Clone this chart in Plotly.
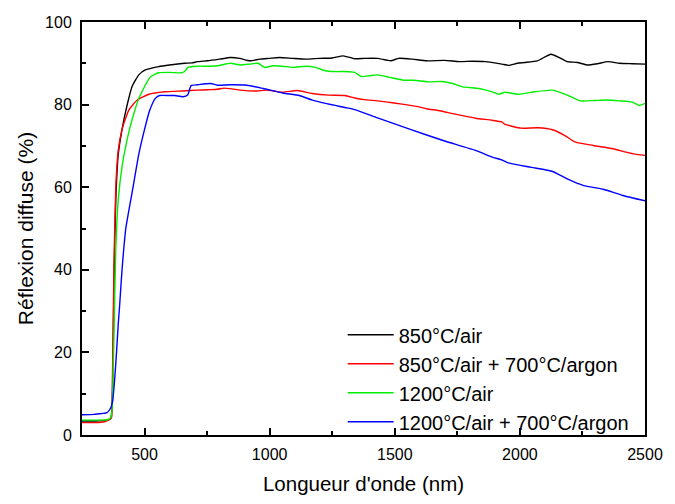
import plotly.graph_objects as go

# ---- data ----
wl_black = [250, 300, 350, 365, 372, 378, 385, 395, 410, 425, 451, 477, 503, 556, 600, 660, 690, 712, 752, 800, 843, 880, 921, 960, 1000, 1039, 1090, 1144, 1200, 1250, 1294, 1340, 1380, 1431, 1484, 1516, 1570, 1627, 1700, 1758, 1810, 1862, 1928, 1954, 1990, 2019, 2070, 2124, 2160, 2189, 2230, 2268, 2310, 2352, 2398, 2450, 2500]
val_black = [3.4, 3.4, 3.6, 4.0, 12, 38, 57, 68, 74, 78.5, 84.5, 87.2, 88.4, 89.2, 89.6, 90.0, 90.1, 90.4, 90.6, 91.0, 91.4, 91.2, 90.6, 91.0, 91.2, 91.4, 91.2, 91.0, 91.2, 91.3, 91.8, 91.1, 91.2, 91.2, 90.6, 91.2, 91.0, 90.6, 90.7, 90.4, 90.5, 90.4, 89.8, 89.5, 90.0, 90.2, 90.6, 92.2, 91.3, 90.4, 90.2, 89.6, 89.9, 90.4, 90.0, 89.9, 89.8]

wl_red = [250, 300, 340, 360, 368, 372, 378, 385, 395, 410, 425, 438, 471, 517, 582, 650, 712, 752, 791, 817, 850, 882, 948, 987, 1052, 1111, 1170, 1235, 1301, 1340, 1379, 1431, 1497, 1562, 1600, 1627, 1680, 1732, 1780, 1823, 1889, 1928, 1941, 2006, 2072, 2131, 2180, 2222, 2294, 2372, 2424, 2460, 2500]
val_red = [3.0, 3.0, 3.2, 3.8, 4.2, 15, 42, 60, 69, 74, 76.8, 78.8, 81.1, 82.5, 83.1, 83.3, 83.5, 83.6, 83.7, 84.0, 83.8, 83.5, 83.3, 83.5, 83.0, 83.4, 82.7, 82.3, 82.2, 81.6, 81.2, 80.9, 80.4, 79.8, 79.4, 79.0, 78.5, 77.8, 77.2, 76.7, 76.2, 75.8, 75.2, 74.3, 74.4, 73.9, 72.5, 70.9, 70.1, 69.3, 68.5, 68.0, 67.7]

wl_green = [250, 300, 350, 365, 370, 378, 385, 395, 410, 425, 445, 477, 523, 556, 600, 647, 660, 673, 712, 752, 791, 843, 882, 920, 954, 980, 1013, 1050, 1092, 1144, 1183, 1222, 1260, 1301, 1340, 1366, 1400, 1431, 1480, 1536, 1575, 1640, 1690, 1732, 1771, 1836, 1889, 1915, 1941, 1994, 2059, 2131, 2190, 2242, 2300, 2346, 2398, 2450, 2476, 2500]
val_green = [3.6, 3.6, 3.7, 4.2, 6, 25, 45, 57, 65, 70, 75.2, 81.5, 86.7, 87.7, 87.8, 87.7, 88.0, 89.0, 89.3, 89.3, 89.4, 90.0, 89.6, 89.8, 90.0, 89.0, 89.4, 89.3, 89.0, 89.3, 89.0, 88.2, 88.0, 88.0, 87.8, 86.8, 87.0, 87.2, 86.6, 85.9, 85.9, 85.5, 85.6, 85.1, 84.3, 83.9, 83.1, 82.5, 83.0, 82.5, 83.1, 83.5, 82.3, 80.9, 81.0, 81.1, 80.9, 80.6, 79.8, 80.3]

wl_blue = [250, 300, 350, 365, 372, 380, 388, 395, 400, 410, 425, 454, 477, 500, 520, 543, 560, 600, 621, 654, 672, 686, 712, 765, 791, 843, 909, 974, 1052, 1118, 1170, 1262, 1301, 1340, 1431, 1562, 1693, 1823, 1889, 1928, 1954, 2046, 2131, 2189, 2255, 2333, 2411, 2500]
val_blue = [4.9, 5.0, 5.4, 6.6, 8, 13, 20, 27, 31, 40, 50, 60, 68, 74, 78.5, 81.5, 82.2, 82.2, 82.2, 81.9, 82.3, 84.6, 84.8, 85.1, 84.7, 84.8, 84.7, 83.9, 82.8, 82.2, 81.1, 79.8, 79.3, 78.8, 76.8, 74.0, 71.3, 68.9, 67.3, 66.6, 65.9, 64.8, 63.8, 62.0, 60.4, 59.5, 58.0, 56.7]

series_names = ["850°C/air", "850°C/air + 700°C/argon", "1200°C/air", "1200°C/air + 700°C/argon"]
series_x = [wl_black, wl_red, wl_green, wl_blue]
series_y = [val_black, val_red, val_green, val_blue]
series_colors = ["#000000", "#ff0000", "#00ee00", "#0000ff"]

x_title = "Longueur d'onde (nm)"
y_title = "Réflexion diffuse (%)"

fig = go.Figure()
for name, xs, ys, c in zip(series_names, series_x, series_y, series_colors):
    fig.add_trace(go.Scatter(x=xs, y=ys, mode="lines", name=name,
                             line=dict(color=c, width=1.4, shape="spline", smoothing=0.5)))

font_family = "Liberation Sans, Arial, sans-serif"
fig.update_layout(
    width=675, height=504,
    margin=dict(l=82, r=14, t=22, b=55),
    paper_bgcolor="white", plot_bgcolor="white",
    font=dict(family=font_family, color="black", size=16),
    showlegend=True,
    legend=dict(x=0.463, y=0.29, xanchor="left", yanchor="top",
                bgcolor="rgba(0,0,0,0)", font=dict(size=20, color="black"),
                tracegroupgap=0, itemwidth=46),
    xaxis=dict(range=[250, 2500], tick0=0, dtick=500, ticks="inside", ticklen=7,
               tickwidth=1.5, tickcolor="black", showline=True, linecolor="black",
               linewidth=2, mirror="ticks", showgrid=False, zeroline=False,
               tickfont=dict(size=16), ticklabelstandoff=4, ticklabeloverflow="allow",
               minor=dict(ticks="inside", dtick=250, ticklen=4, tickwidth=1.5, tickcolor="black"),
               title=dict(text=x_title, font=dict(size=20.5), standoff=14)),
    yaxis=dict(range=[0, 100], tick0=0, dtick=20, ticks="inside", ticklen=7,
               tickwidth=1.5, tickcolor="black", showline=True, linecolor="black",
               linewidth=2, mirror=True, showgrid=False, zeroline=False,
               tickfont=dict(size=16), ticklabelstandoff=5,
               minor=dict(ticks="inside", dtick=10, ticklen=4, tickwidth=1.5, tickcolor="black"),
               title=dict(text=y_title, font=dict(size=21), standoff=6)),
)

fig.write_html("out.html",
               config={"displayModeBar": False},
               post_script="document.body.style.margin='0';document.body.style.overflow='hidden';")
